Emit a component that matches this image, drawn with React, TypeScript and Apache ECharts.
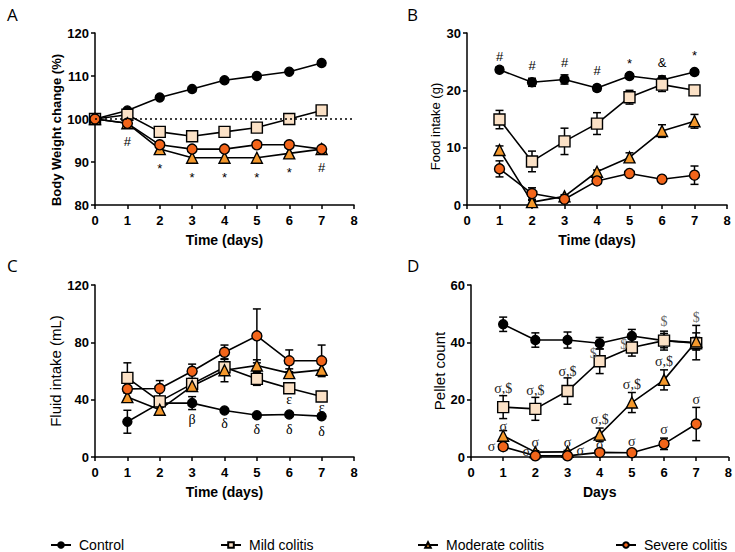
import React, { useEffect, useRef } from 'react';
import * as echarts from 'echarts';

// ---------- data ----------
const daysA = [0, 1, 2, 3, 4, 5, 6, 7];
const days = [1, 2, 3, 4, 5, 6, 7];
const groups = ['Control', 'Mild colitis', 'Moderate colitis', 'Severe colitis'];

// Panel A: body weight change (%)
const weightControl = [100, 102, 105, 107, 109, 110, 111, 113];
const weightMild = [100, 101, 97, 96, 97, 98, 100, 102];
const weightModerate = [100, 99, 93, 91, 91, 91, 92, 93];
const weightSevere = [100, 99, 94, 93, 93, 94, 94, 93];
const weightBaseline = 100;

// Panel B: food intake (g) mean and error
const foodControl = [23.6, 21.4, 21.9, 20.4, 22.5, 21.8, 23.2];
const foodControlErr = [0.5, 0.7, 0.8, 0.5, 0.3, 0.7, 0.3];
const foodMild = [14.9, 7.6, 11.1, 14.2, 18.8, 21.0, 20.0];
const foodMildErr = [1.6, 1.8, 2.3, 1.9, 1.2, 1.2, 0.6];
const foodModerate = [9.6, 0.5, 1.5, 5.8, 8.3, 12.9, 14.6];
const foodModerateErr = [0.7, 0.3, 0.3, 0.3, 0.8, 1.1, 1.2];
const foodSevere = [6.3, 2.0, 1.0, 4.2, 5.5, 4.5, 5.2];
const foodSevereErr = [1.4, 1.0, 0.3, 0.5, 0.3, 0.4, 1.6];

// Panel C: fluid intake (mL)
const fluidControl = [24.6, 37.6, 37.6, 32.5, 29.2, 29.7, 28.5];
const fluidControlErr = [8, 0, 4.5, 0, 0, 0, 0];
const fluidMild = [55.2, 38.8, 51.0, 62.6, 54.5, 48.0, 42.2];
const fluidMildErr = [10.5, 3, 3, 3, 4.5, 2, 2];
const fluidModerate = [41.8, 33.0, 49.5, 60.5, 63.8, 58.5, 60.8];
const fluidModerateErr = [3, 2, 3, 8, 4, 3, 4];
const fluidSevere = [47.5, 47.8, 59.8, 73.1, 84.5, 67.1, 67.1];
const fluidSevereErr = [0, 5.5, 5, 5, 18.8, 7.6, 11];

// Panel D: pellet count
const pelletControl = [46.3, 40.8, 40.8, 39.7, 42.2, 40.6, 39.9];
const pelletControlErr = [2.5, 2.5, 2.8, 2.0, 2.3, 3.3, 6];
const pelletMild = [17.4, 16.8, 23.0, 33.4, 38.2, 40.6, 39.7];
const pelletMildErr = [4.0, 4.0, 4.6, 4.3, 3.0, 2.5, 2.0];
const pelletModerate = [7.4, 1.7, 1.8, 7.8, 19.0, 26.9, 40.3];
const pelletModerateErr = [1.8, 0.5, 0.5, 2.3, 3.5, 3.5, 3];
const pelletSevere = [3.6, 0.4, 0.4, 1.6, 1.5, 4.6, 11.5];
const pelletSevereErr = [0.5, 0.3, 0.3, 0.5, 0.3, 2.0, 5.8];

// significance annotations [x, y, text]
const annotA: [number, number, string][] = [
  [1, 94.7, '#'], [2, 88.4, '*'], [3, 86.5, '*'], [4, 86.5, '*'],
  [5, 86.5, '*'], [6, 87.6, '*'], [7, 88.7, '#'],
];
const annotB: [number, number, string][] = [
  [1, 25.9, '#'], [2, 24.3, '#'], [3, 24.8, '#'], [4, 23.5, '#'],
  [5, 24.6, '*'], [6, 24.9, '&'], [7, 26.1, '*'],
];
const annotC: [number, number, string][] = [
  [3, 26.5, 'β'], [4, 23.2, 'δ'], [5, 19.5, 'δ'], [6, 19.5, 'δ'], [7, 17.6, 'δ'],
  [6, 40, 'ε'], [7, 34.8, 'ε'],
];
const annotDsigma: [number, number, string][] = [
  [1, 24, 'σ,$'], [2, 23.2, 'σ,$'], [3, 29.8, 'σ,$'],
  [4, 13.2, 'σ,$'], [5, 25.2, 'σ,$'], [6, 33.3, 'σ,$'],
  [1, 10.7, 'σ'], [0.64, 3.6, 'σ'], [2, 5.1, 'σ'], [1.72, 2.0, 'σ'],
  [3, 5.1, 'σ'], [3.4, 2.3, 'σ'], [4, 4.5, 'σ'], [5, 5.4, 'σ'],
  [6, 9.5, 'σ'], [7, 20, 'σ'],
];
const annotDdollar: [number, number, string][] = [
  [3.8, 36.2, '$'], [4.75, 39.4, '$'], [6, 47.1, '$'], [7, 48.7, '$'],
];

const yTicksA = { min: 80, max: 120, interval: 10 };
const yTicksB = { min: 0, max: 30, interval: 10 };
const yTicksC = { min: 0, max: 120, interval: 40 };
const yTicksD = { min: 0, max: 60, interval: 20 };

// ---------- styles ----------
const SANS = '"Liberation Sans", Arial, sans-serif';
const SERIF = '"Liberation Serif", "Times New Roman", serif';
const groupFill = ['#000000', '#FBE1C6', '#F4982C', '#F3651A'];
const groupSymbol = ['circle', 'rect', 'triangle', 'circle'];
const groupSize = [9, 11, 11, 10];

function lineSeries(p: number, g: number, xs: number[], ys: number[], extra: any = {}) {
  return {
    type: 'line',
    name: groups[g],
    xAxisIndex: p,
    yAxisIndex: p,
    data: xs.map((x, i) => [x, ys[i]]),
    symbol: groupSymbol[g],
    symbolSize: groupSize[g],
    showSymbol: true,
    itemStyle: { color: groupFill[g], borderColor: '#000', borderWidth: 1.4 },
    lineStyle: { color: '#000', width: 1.6 },
    z: 3,
    ...extra,
  };
}

function errSeries(p: number, xs: number[], ys: number[], es: number[]) {
  return {
    type: 'custom',
    name: 'err',
    xAxisIndex: p,
    yAxisIndex: p,
    silent: true,
    z: 2,
    itemStyle: { color: '#000' },
    data: xs.map((x, i) => [x, ys[i], es[i]]),
    renderItem: (params: any, api: any) => {
      const x = api.value(0);
      const y = api.value(1);
      const e = api.value(2);
      if (!e) return { type: 'group', children: [] };
      const top = api.coord([x, y + e]);
      const bot = api.coord([x, y - e]);
      const w = 4;
      const st = { stroke: '#000', lineWidth: 1.5 };
      return {
        type: 'group',
        children: [
          { type: 'line', shape: { x1: top[0], y1: top[1], x2: bot[0], y2: bot[1] }, style: st },
          { type: 'line', shape: { x1: top[0] - w, y1: top[1], x2: top[0] + w, y2: top[1] }, style: st },
          { type: 'line', shape: { x1: bot[0] - w, y1: bot[1], x2: bot[0] + w, y2: bot[1] }, style: st },
        ],
      };
    },
  };
}

function annotSeries(p: number, arr: [number, number, string][], font: string, size: number, color: string) {
  return {
    type: 'custom',
    name: 'annot',
    xAxisIndex: p,
    yAxisIndex: p,
    silent: true,
    z: 5,
    itemStyle: { color },
    data: arr.map((a) => [a[0], a[1]]),
    renderItem: (params: any, api: any) => {
      const pt = api.coord([api.value(0), api.value(1)]);
      return {
        type: 'text',
        x: pt[0],
        y: pt[1],
        style: {
          text: arr[params.dataIndex][2],
          fill: color,
          fontFamily: font,
          fontSize: size,
          align: 'center',
          verticalAlign: 'middle',
        },
      };
    },
  };
}

const grids = [
  { left: 95, top: 33, width: 259, height: 172 },
  { left: 467, top: 33, width: 260, height: 172 },
  { left: 95, top: 285, width: 259, height: 172 },
  { left: 471, top: 285, width: 259, height: 172 },
];

const axisCommon = {
  axisLine: { show: true, onZero: false, lineStyle: { color: '#000', width: 1.5 } },
  axisTick: { show: true, length: 4, lineStyle: { color: '#000', width: 1.5 } },
  splitLine: { show: false },
};

function xAxis(p: number, name: string) {
  return {
    type: 'value',
    gridIndex: p,
    min: 0,
    max: 8,
    interval: 1,
    name,
    nameLocation: 'middle',
    nameGap: 28,
    nameTextStyle: { fontFamily: SANS, fontWeight: 'bold', fontSize: 14, color: '#000' },
    axisLabel: { fontFamily: SANS, fontWeight: 'bold', fontSize: 13, color: '#000', margin: 9 },
    ...axisCommon,
  };
}

function yAxis(p: number, t: any, name: string, gap: number, size: number, weight: string, shift: number) {
  return {
    type: 'value',
    gridIndex: p,
    ...t,
    name,
    nameLocation: 'middle',
    nameGap: gap,
    nameRotate: 90,
    nameTextStyle: {
      fontFamily: SANS,
      fontWeight: weight,
      fontSize: size,
      color: '#000',
      padding: [0, shift, 0, 0],
    },
    axisLabel: { fontFamily: SANS, fontWeight: 'bold', fontSize: 13, color: '#000', margin: 6 },
    ...axisCommon,
  };
}

export default function App() {
  const ref = useRef<HTMLDivElement>(null);
  useEffect(() => {
    if (!ref.current) return;
    const chart = echarts.init(ref.current, null, { renderer: 'svg' });
    const legendPos = [50, 220, 417, 615];
    const option: any = {
      animation: false,
      backgroundColor: '#fff',
      title: [
        { text: 'A', left: 2, top: 1 },
        { text: 'B', left: 402, top: 1 },
        { text: 'C', left: 2, top: 252 },
        { text: 'D', left: 402, top: 252 },
      ].map((t) => ({ ...t, textStyle: { fontFamily: '"Open Sans", sans-serif', fontWeight: 'normal', fontSize: 17, color: '#000' } })),
      legend: groups.map((g, i) => ({
        data: [g],
        left: legendPos[i],
        top: 538,
        padding: 0,
        itemWidth: 20,
        itemHeight: 7,
        selectedMode: false,
        textStyle: { fontFamily: SANS, fontSize: 14, color: '#000', padding: [0, 0, 0, 3] },
      })),
      grid: grids,
      xAxis: [
        xAxis(0, 'Time (days)'),
        xAxis(1, 'Time (days)'),
        xAxis(2, 'Time (days)'),
        xAxis(3, 'Days'),
      ],
      yAxis: [
        yAxis(0, yTicksA, 'Body Weight change (%)', 31, 13, 'bold', 22),
        yAxis(1, yTicksB, 'Food intake (g)', 25, 13, 'normal', 15),
        yAxis(2, yTicksC, 'Fluid intake (mL)', 30, 15, 'normal', 0),
        yAxis(3, yTicksD, 'Pellet count', 22, 15, 'normal', 0),
      ],
      series: [
        // Panel A
        lineSeries(0, 0, daysA, weightControl, {
          markLine: {
            silent: true,
            symbol: 'none',
            label: { show: false },
            lineStyle: { color: '#000', type: [2, 3], width: 1.5 },
            data: [{ yAxis: weightBaseline }],
          },
        }),
        lineSeries(0, 1, daysA, weightMild),
        lineSeries(0, 2, daysA, weightModerate),
        lineSeries(0, 3, daysA, weightSevere),
        annotSeries(0, annotA, SANS, 13, '#000'),
        // Panel B
        errSeries(1, days, foodControl, foodControlErr),
        errSeries(1, days, foodMild, foodMildErr),
        errSeries(1, days, foodModerate, foodModerateErr),
        errSeries(1, days, foodSevere, foodSevereErr),
        lineSeries(1, 0, days, foodControl),
        lineSeries(1, 1, days, foodMild),
        lineSeries(1, 2, days, foodModerate),
        lineSeries(1, 3, days, foodSevere),
        annotSeries(1, annotB, SANS, 13, '#000'),
        // Panel C
        errSeries(2, days, fluidControl, fluidControlErr),
        errSeries(2, days, fluidMild, fluidMildErr),
        errSeries(2, days, fluidModerate, fluidModerateErr),
        errSeries(2, days, fluidSevere, fluidSevereErr),
        lineSeries(2, 0, days, fluidControl),
        lineSeries(2, 1, days, fluidMild),
        lineSeries(2, 2, days, fluidModerate),
        lineSeries(2, 3, days, fluidSevere),
        annotSeries(2, annotC, SERIF, 14, '#000'),
        // Panel D
        errSeries(3, days, pelletControl, pelletControlErr),
        errSeries(3, days, pelletMild, pelletMildErr),
        errSeries(3, days, pelletModerate, pelletModerateErr),
        errSeries(3, days, pelletSevere, pelletSevereErr),
        lineSeries(3, 0, days, pelletControl),
        lineSeries(3, 1, days, pelletMild),
        lineSeries(3, 2, days, pelletModerate),
        lineSeries(3, 3, days, pelletSevere),
        annotSeries(3, annotDsigma, SERIF, 14, '#222'),
        annotSeries(3, annotDdollar, SERIF, 14, '#666'),
      ],
    };
    chart.setOption(option);
    return () => chart.dispose();
  }, []);
  return (
    <div
      ref={ref}
      style={{ position: 'fixed', left: 0, top: 0, width: 735, height: 552, background: '#fff' }}
    />
  );
}
